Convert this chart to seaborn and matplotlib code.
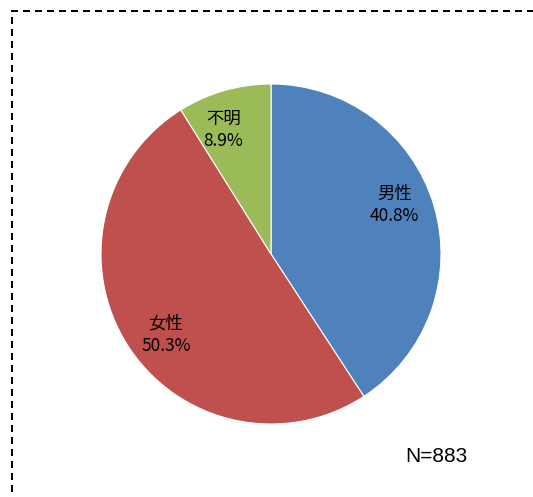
import matplotlib
matplotlib.use("Agg")
import matplotlib.pyplot as plt
import seaborn as sns
from matplotlib.patches import Rectangle

# 回答者の性別
categories = ['男性', '女性', '不明']
shares = [40.8, 50.3, 8.9]
colors = ['#4F81BD', '#C0504D', '#9BBB59']
n_total = 883

sns.set_theme(style="white")
plt.rcParams['font.family'] = ['Noto Sans CJK JP', 'DejaVu Sans']

fig = plt.figure(figsize=(5.33, 4.97), dpi=100)
ax = fig.add_axes([101 / 533, 73 / 497, 340 / 533, 340 / 497])

labels = [f'{c}\n{v:.1f}%' for c, v in zip(categories, shares)]
wedges, texts = ax.pie(shares, labels=labels, colors=colors, startangle=95,
                       counterclock=False, labeldistance=0.78,
                       wedgeprops=dict(edgecolor='white', linewidth=0.8),
                       textprops=dict(fontsize=12.5, color='black',
                                      linespacing=1.3))
for t in texts:
    t.set_horizontalalignment('center')
    t.set_verticalalignment('center')
# ラベル位置だけ少し回したので、扇形は90度始まりに戻す
for w in wedges:
    w.set_theta1(w.theta1 - 5)
    w.set_theta2(w.theta2 - 5)
ax.set_xlim(-1, 1)
ax.set_ylim(-1, 1)
ax.set_aspect('equal')
ax.axis('off')

fig.text(436 / 533, 1 - 456 / 497, f'N={n_total}', ha='center', va='center',
         fontsize=15, color='black', family=['Liberation Sans', 'DejaVu Sans'])

# 破線の枠（右と下ははみ出す）
frame = Rectangle((12 / 533, -0.1), 1.2, 1 - 11 / 497 + 0.1,
                  transform=fig.transFigure, fill=False, edgecolor='black',
                  linewidth=1.44, linestyle=(0, (3.5, 2.5)), clip_on=False)
fig.patches.append(frame)

fig.savefig('out.png', dpi=100)
